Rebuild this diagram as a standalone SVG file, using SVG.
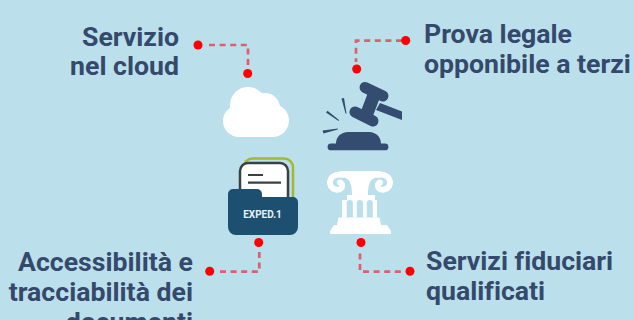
<svg xmlns="http://www.w3.org/2000/svg" width="634" height="320" viewBox="0 0 634 320">
<style>
.t{font-family:Roboto,"Liberation Sans",sans-serif;font-weight:700;font-size:26.67px;fill:#34496b;font-variant-ligatures:none}
.c{fill:none;stroke:#d9606e;stroke-width:2.7;stroke-dasharray:6 4.6}
.d{fill:#ff0000}
.g{fill:#344c70}
.w{fill:#fff}
</style>
<rect width="634" height="320" fill="#bbe0eb"/>
<g id="connectors">
<path class="c" d="M209 45H248V66"/><circle class="d" cx="198" cy="45" r="4.500"/><circle class="d" cx="247.700" cy="73.500" r="4.500"/>
<path class="c" d="M402 40.700H356V62"/><circle class="d" cx="405.700" cy="40.500" r="4.500"/><circle class="d" cx="356.700" cy="69" r="4.500"/>
<path class="c" d="M220 271.700H259.300V250"/><circle class="d" cx="209.700" cy="271.300" r="4.500"/><circle class="d" cx="258.700" cy="242.500" r="4.500"/>
<path class="c" d="M360 253.500V271.700H403"/><circle class="d" cx="361" cy="242.500" r="4.500"/><circle class="d" cx="410" cy="271.300" r="4.500"/>
</g>
<g id="label-cloud"><text class="t" x="179" y="46" text-anchor="end">Servizio</text><text class="t" x="179" y="75" text-anchor="end">nel cloud</text></g>
<g id="label-legal"><text class="t" x="424" y="43">Prova legale</text><text class="t" x="424" y="73">opponibile a terzi</text></g>
<g id="label-access"><text class="t" x="193" y="271" text-anchor="end">Accessibilità e</text><text class="t" x="193" y="301" text-anchor="end">tracciabilità dei</text><text class="t" x="193" y="331" text-anchor="end">documenti</text></g>
<g id="label-trust"><text class="t" x="426" y="270">Servizi fiduciari</text><text class="t" x="426" y="300">qualificati</text></g>
<g id="cloud">
<circle class="w" cx="239" cy="121" r="16"/><circle class="w" cx="272.500" cy="120.500" r="16.500"/><circle class="w" cx="248" cy="105" r="18"/><circle class="w" cx="265" cy="108" r="15"/><rect class="w" x="239" y="110" width="33" height="27"/>
</g>
<g id="gavel">
<path class="g" d="M336 143.500C336 137 341 132 348 132H369C376 132 381 137 381 143.500H385A3.300 3.300 0 0 1 385 150.300H331A3.300 3.300 0 0 1 331 143.500Z"/>
<path class="g" d="M341.500 98.500L344 98L346.500 113.500L345.500 113.500ZM326 112.500L327.500 110.800L339 120L338.500 121ZM322.500 130.500L337.800 128.500L337.800 129.500L323.500 133.500Z"/>
<path class="g" d="M380 103L402 111.500V120L376 110Z"/>
<g stroke="#344c70" fill="none">
<path d="M365 87.500L383 96" stroke-width="11" stroke-linecap="round"/><path d="M355 112L373 121" stroke-width="11" stroke-linecap="round"/>
<path d="M374 95L366 116" stroke-width="13"/>
</g></g>
<g id="folder">
<rect x="243.500" y="158.500" width="49.500" height="55" rx="9" fill="none" stroke="#a4b82f" stroke-width="2.500"/>
<rect x="240" y="163" width="48" height="50" rx="8" fill="#fff" stroke="#3b3f46" stroke-width="2.500"/>
<path d="M248 175H263M248 182.700H281" stroke="#3b3f46" stroke-width="2.200" fill="none"/>
<path d="M228 194a5 5 0 0 1 5-5h24a5 5 0 0 1 5 5v3h31a5 5 0 0 1 5 5V227a8 8 0 0 1-8 8H236a8 8 0 0 1-8-8Z" fill="#1d5070"/>
<text x="262.500" y="217.500" text-anchor="middle" font-family="Roboto,'Liberation Sans',sans-serif" font-weight="700" font-size="10" fill="#e8f2f6">EXPED.1</text>
</g>
<g id="column">
<path fill="none" stroke="#fff" stroke-width="5.800" stroke-linecap="round" d="M342 174.500C334 173.500 329.800 178 330 183C330.300 188 335 190.500 339 189.500C342.500 188.500 343.500 184 340 182.500M378 174.500C386 173.500 390.200 178 390 183C389.700 188 385 190.500 381 189.500C377.500 188.500 376.500 184 380 182.500"/>
<path class="w" d="M340 171H380V177.500H376C370 179 368 184 368 195H375V200H377V217.500H342V200H347V195H352C352 184 350 179 344 177.500H340Z"/>
<path fill="#bbe0eb" d="M346.700 218V203a3.100 3.100 0 0 1 6.200 0V218ZM356.800 218V203a3.100 3.100 0 0 1 6.200 0V218ZM366.800 218V203a3 3 0 0 1 6 0V218Z"/>
<path class="w" d="M338.500 217.500H379.500L381 225H387L391 231V234H330V231L334 225H337Z"/>
</g>
</svg>
